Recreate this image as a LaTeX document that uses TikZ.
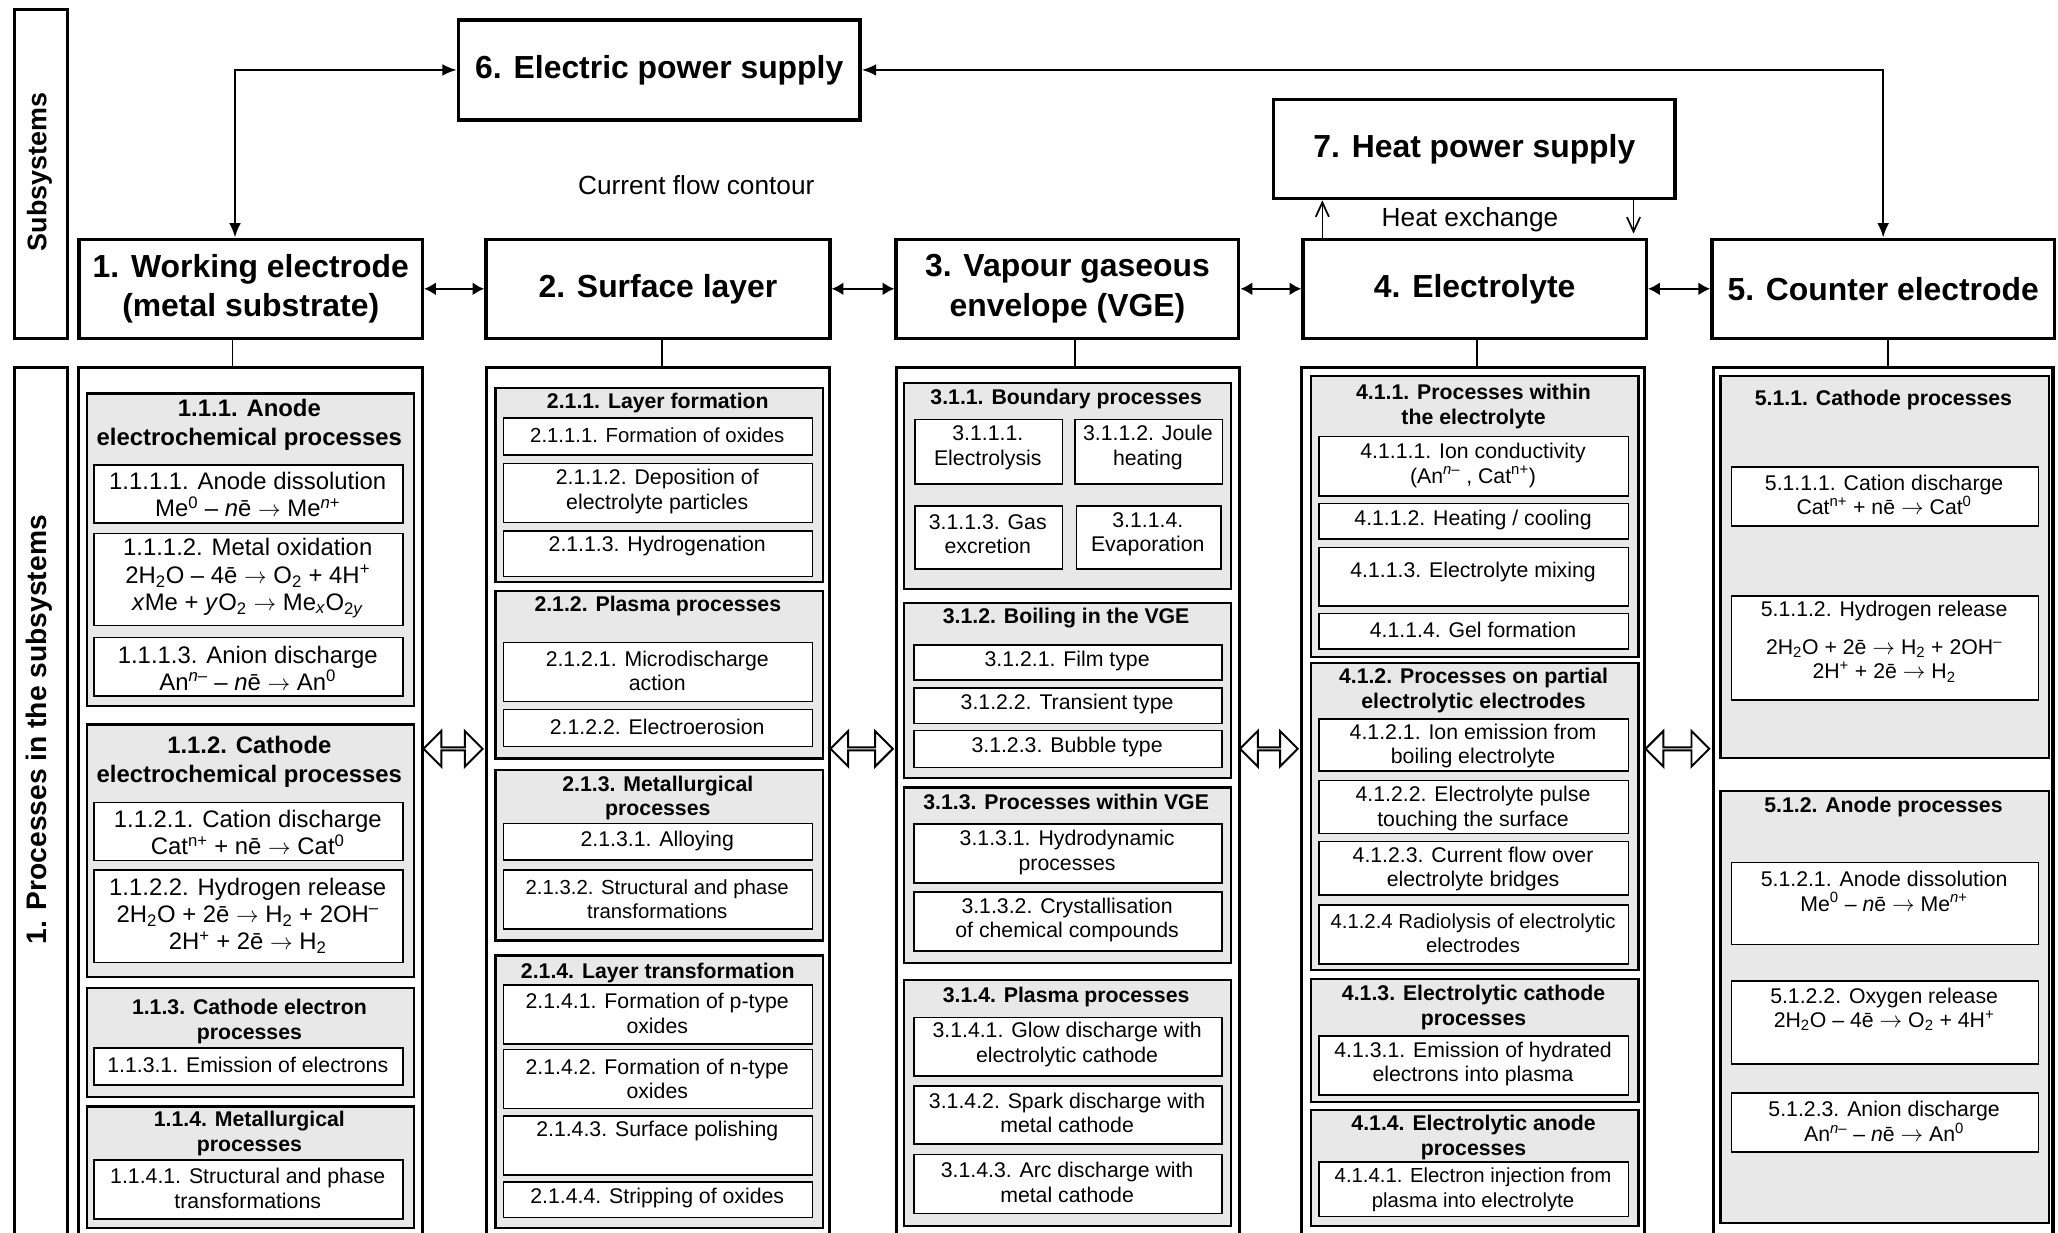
\documentclass[tikz,border=0pt]{standalone}
\usepackage{fontspec}
\setmainfont{Liberation Sans}
\usetikzlibrary{arrows.meta,shapes.arrows}
\definecolor{grpfill}{gray}{0.91}

% rectangle node given by its top-left and bottom-right corners
\newcommand\tbox[7]{\node[#2, anchor=north west, minimum width={#5-#3}, minimum height={#6-#4}] (#1) at (#3,#4) {#7};}
\newcommand\rbox[6]{\tbox{#1}{#2}{#3}{#4}{#5}{#6}{}}
% reaction arrow
\newcommand\yields{\ensuremath{\rightarrow}}

\tikzset{
  sysbox/.style={draw, line width=2.6pt, fill=white, font=\fontsize{24.3}{30}\selectfont\bfseries, align=center, inner sep=0pt},
  colbox/.style={draw, line width=2.4pt, inner sep=0pt},
  grpbox/.style={draw, line width=1.8pt, fill=grpfill, inner sep=0pt},
  itmbox/.style={draw, line width=1.3pt, fill=white, inner sep=0pt},
  lblbox/.style={draw, line width=2.2pt, inner sep=0pt},
  txa/.style={font=\fontsize{18.2}{20.7}\selectfont, align=center, inner sep=0pt},
  hda/.style={font=\fontsize{18.2}{22}\selectfont\bfseries, align=center, inner sep=0pt},
  txb/.style={font=\fontsize{16.2}{18.7}\selectfont, align=center, inner sep=0pt},
  txs/.style={font=\fontsize{15.5}{18.7}\selectfont, align=center, inner sep=0pt},
  hdb/.style={font=\fontsize{16.2}{19}\selectfont\bfseries, align=center, inner sep=0pt},
  elec/.style={line width=1.6pt, arrows={Latex[length=11pt,width=9pt]-Latex[length=11pt,width=9pt]}},
  link/.style={line width=2pt, arrows={Latex[length=9pt,width=10pt]-Latex[length=9pt,width=10pt]}},
  heat/.style={line width=1.3pt, arrows={-Straight Barb[length=11pt,width=10pt]}},
  stem/.style={line width=1.3pt},
  hollow/.style={double arrow, draw, line width=1.5pt, fill=white, minimum width=27pt,
    double arrow head extend=8pt, inner sep=0pt},
  note/.style={font=\fontsize{20}{24}\selectfont, inner sep=0pt},
  side/.style={font=\fontsize{20.5}{24}\selectfont\bfseries, rotate=90, inner sep=0pt},
}

\begin{document}
\begin{tikzpicture}[x=1pt,y=-1pt]
\useasboundingbox (0,0) rectangle (1568,939);

% ---------- side labels ----------
\rbox{lsub}{lblbox}{10}{6}{50}{256.5}
\node[side] (lsubt) at (30,131) {Subsystems};
\rbox{lproc}{lblbox}{10}{279}{50}{948}
\node[side, font=\fontsize{21.5}{24}\selectfont\bfseries] (lproct) at (30,556) {1. Processes in the subsystems};

% ---------- supplies ----------
\tbox{e6}{sysbox}{348}{14}{654}{90}{6. Electric power supply}
\tbox{e7}{sysbox}{969}{74.5}{1275}{150}{7. Heat power supply}

% ---------- subsystems ----------
\tbox{s1}{sysbox}{59}{181}{320.5}{256.5}{1. Working electrode\\(metal substrate)}
\tbox{s2}{sysbox}{369}{181}{631}{256.5}{2. Surface layer}
\tbox{s3}{sysbox}{681.5}{181}{942.5}{256.5}{3. Vapour gaseous\\envelope (VGE)}
\tbox{s4}{sysbox}{991.5}{181}{1253}{256.5}{4. Electrolyte}
\tbox{s5}{sysbox}{1303}{181}{1564}{256.5}{5. Counter electrode}

\node[note] (cfc) at (530.5,141) {Current flow contour};
\node[note] (hx) at (1120,167.5) {Heat exchange};

% current flow contour
\draw[elec] ([xshift=-12pt]s1.north) |- (e6.west);
\draw[elec] (e6.east) -| (s5.north);
\draw[link] (s1.east) -- (s2.west);
\draw[link] (s2.east) -- (s3.west);
\draw[link] (s3.east) -- (s4.west);
\draw[link] (s4.east) -- (s5.west);

% heat exchange
\coordinate (hu) at ([xshift=16pt]s4.north west);
\coordinate (hd) at ([xshift=-11pt]s4.north east);
\draw[heat] (hu) -- (hu |- e7.south);
\draw[heat, shorten >=3pt] (hd |- e7.south) -- (hd);

% ---------- process columns ----------
\rbox{c1}{colbox}{58.5}{279}{320.8}{948}
\rbox{c2}{colbox}{369.5}{279}{631}{948}
\rbox{c3}{colbox}{682}{279}{943}{948}
\rbox{c4}{colbox}{990.5}{279}{1252}{948}
\rbox{c5}{colbox}{1304}{279}{1563}{948}

\coordinate (k1) at ([xshift=-14pt]s1.south);
\coordinate (k2) at ([xshift=3pt]s2.south);
\coordinate (k3) at ([xshift=6pt]s3.south);
\coordinate (k4) at ([xshift=1.5pt]s4.south);
\coordinate (k5) at ([xshift=3.5pt]s5.south);
\draw[stem] (k1) -- (k1 |- c1.north);
\draw[stem] (k2) -- (k2 |- c2.north);
\draw[stem] (k3) -- (k3 |- c3.north);
\draw[stem] (k4) -- (k4 |- c4.north);
\draw[stem] (k5) -- (k5 |- c5.north);

\node[hollow, minimum height=45pt] (h12) at (345.2,570.5) {};
\node[hollow, minimum height=47.5pt] (h23) at (656.5,570.5) {};
\node[hollow, minimum height=44pt] (h34) at (966.8,570.5) {};
\node[hollow, minimum height=48.5pt] (h45) at (1278,570.5) {};

% ---------- column 1: working electrode ----------
\rbox{g111}{grpbox}{65.5}{299}{314.5}{537}
\node[hda] (h111) at (190,323.5) {1.1.1. Anode\\electrochemical processes};
\rbox{i1111}{itmbox}{71}{353.7}{306.5}{398}
\node[txa] (t1111) at (188.75,377) {1.1.1.1. Anode dissolution\\Me\textsuperscript{0} – \textit{n}ē \yields{} Me\textsuperscript{\textit{n}+}};
\rbox{i1112}{itmbox}{71}{405.8}{306.5}{476}
\node[txa] (t1112) at (188.75,440.5) {1.1.1.2. Metal oxidation\\2H\textsubscript{2}O – 4ē \yields{} O\textsubscript{2} + 4H\textsuperscript{+}\\\textit{x}Me + \textit{y}O\textsubscript{2} \yields{} Me\textsubscript{\textit{x}}O\textsubscript{2\textit{y}}};
\rbox{i1113}{itmbox}{71}{485}{306.5}{529.5}
\node[txa] (t1113) at (188.75,509) {1.1.1.3. Anion discharge\\An\textsuperscript{\textit{n}–} – \textit{n}ē \yields{} An\textsuperscript{0}};

\rbox{g112}{grpbox}{65.5}{551}{314.5}{743.6}
\node[hda] (h112) at (190,580.7) {1.1.2. Cathode\\electrochemical processes};
\rbox{i1121}{itmbox}{71}{610.8}{306.5}{655}
\node[txa] (t1121) at (188.75,634.5) {1.1.2.1. Cation discharge\\Cat\textsuperscript{n+} + nē \yields{} Cat\textsuperscript{0}};
\rbox{i1122}{itmbox}{71}{662}{306.5}{732.7}
\node[txa] (t1122) at (188.75,697.5) {1.1.2.2. Hydrogen release\\2H\textsubscript{2}O + 2ē \yields{} H\textsubscript{2} + 2OH\textsuperscript{–}\\2H\textsuperscript{+} + 2ē \yields{} H\textsubscript{2}};

\rbox{g113}{grpbox}{65.5}{751.7}{314.5}{835}
\node[hdb] (h113) at (190,778.5) {1.1.3. Cathode electron\\processes};
\rbox{i1131}{itmbox}{71}{798}{306.5}{826}
\node[txb] (t1131) at (188.75,811.5) {1.1.3.1. Emission of electrons};

\rbox{g114}{grpbox}{65.5}{842}{314.5}{934.6}
\node[hdb] (h114) at (190,863.5) {1.1.4. Metallurgical\\processes};
\rbox{i1141}{itmbox}{71}{883}{306.5}{928}
\node[txb] (t1141) at (188.75,905.5) {1.1.4.1. Structural and phase\\transformations};

% ---------- column 2: surface layer ----------
\rbox{g211}{grpbox}{376.5}{294.6}{626}{442.7}
\node[hdb] (h211) at (501.2,307) {2.1.1. Layer formation};
\rbox{i2111}{itmbox}{383}{318}{618.5}{346}
\node[txs] (t2111) at (500.75,331.5) {2.1.1.1. Formation of oxides};
\rbox{i2112}{itmbox}{383}{352.5}{618.5}{397.5}
\node[txb] (t2112) at (500.75,374.5) {2.1.1.2. Deposition of\\electrolyte particles};
\rbox{i2113}{itmbox}{383}{403.8}{618.5}{438.6}
\node[txb] (t2113) at (500.75,416) {2.1.1.3. Hydrogenation};

\rbox{g212}{grpbox}{376.5}{449.5}{626}{577}
\node[hdb] (h212) at (501.2,462) {2.1.2. Plasma processes};
\rbox{i2121}{itmbox}{383}{488.9}{618.5}{533.8}
\node[txb] (t2121) at (500.75,511) {2.1.2.1. Microdischarge\\action};
\rbox{i2122}{itmbox}{383}{540}{618.5}{568}
\node[txb] (t2122) at (500.75,553.5) {2.1.2.2. Electroerosion};

\rbox{g213}{grpbox}{376.5}{586}{626}{715.6}
\node[hdb] (h213) at (501.2,608) {2.1.3. Metallurgical\\processes};
\rbox{i2131}{itmbox}{383}{626.8}{618.5}{654.6}
\node[txb] (t2131) at (500.75,641) {2.1.3.1. Alloying};
\rbox{i2132}{itmbox}{383}{662}{618.5}{707}
\node[txs] (t2132) at (500.75,685) {2.1.3.2. Structural and phase\\transformations};

\rbox{g214}{grpbox}{376.5}{727}{626}{934.6}
\node[hdb] (h214) at (501.2,741.5) {2.1.4. Layer transformation};
\rbox{i2141}{itmbox}{383}{749.8}{618.5}{794.8}
\node[txb] (t2141) at (500.75,772) {2.1.4.1. Formation of p-type\\oxides};
\rbox{i2142}{itmbox}{383}{799}{618.5}{844}
\node[txb] (t2142) at (500.75,822) {2.1.4.2. Formation of n-type\\oxides};
\rbox{i2143}{itmbox}{383}{849.5}{618.5}{894.5}
\node[txb] (t2143) at (500.75,862) {2.1.4.3. Surface polishing};
\rbox{i2144}{itmbox}{383}{899.8}{618.5}{927}
\node[txb] (t2144) at (500.75,912.5) {2.1.4.4. Stripping of oxides};

% ---------- column 3: vapour gaseous envelope ----------
\rbox{g311}{grpbox}{687.7}{291}{937}{448}
\node[hdb] (h311) at (812.3,304) {3.1.1. Boundary processes};
\rbox{i3111}{itmbox}{696.4}{319}{808.9}{368}
\node[txb] (t3111) at (752.6,341) {3.1.1.1.\\Electrolysis};
\rbox{i3112}{itmbox}{818.4}{319}{930.8}{368}
\node[txb] (t3112) at (874.6,341) {3.1.1.2. Joule\\heating};
\rbox{i3113}{itmbox}{696.4}{384.8}{808.9}{433}
\node[txb] (t3113) at (752.6,407) {3.1.1.3. Gas\\excretion};
\rbox{i3114}{itmbox}{819.5}{384.8}{929.5}{433}
\node[txb] (t3114) at (874.5,407) {3.1.1.4.\\Evaporation};

\rbox{g312}{grpbox}{687.7}{458.4}{937}{592}
\node[hdb] (h312) at (812.3,471) {3.1.2. Boiling in the VGE};
\rbox{i3121}{itmbox}{695.5}{490.7}{930.5}{517.6}
\node[txb] (t3121) at (813,503.5) {3.1.2.1. Film type};
\rbox{i3122}{itmbox}{695.5}{523.5}{930.5}{550.6}
\node[txb] (t3122) at (813,536) {3.1.2.2. Transient type};
\rbox{i3123}{itmbox}{695.5}{556}{930.5}{584}
\node[txb] (t3123) at (813,569.5) {3.1.2.3. Bubble type};

\rbox{g313}{grpbox}{687.7}{599}{937}{732.7}
\node[hdb] (h313) at (812.3,611) {3.1.3. Processes within VGE};
\rbox{i3131}{itmbox}{695.5}{627}{930.5}{672}
\node[txb] (t3131) at (813,649.5) {3.1.3.1. Hydrodynamic\\processes};
\rbox{i3132}{itmbox}{695.5}{679}{930.5}{723.8}
\node[txb] (t3132) at (813,701) {3.1.3.2. Crystallisation\\of chemical compounds};

\rbox{g314}{grpbox}{687.7}{746}{937}{933}
\node[hdb] (h314) at (812.3,759.5) {3.1.4. Plasma processes};
\rbox{i3141}{itmbox}{695.5}{774.6}{930.5}{819}
\node[txb] (t3141) at (813,796) {3.1.4.1. Glow discharge with\\electrolytic cathode};
\rbox{i3142}{itmbox}{695.5}{826.7}{930.5}{871}
\node[txb] (t3142) at (813,848) {3.1.4.2. Spark discharge with\\metal cathode};
\rbox{i3143}{itmbox}{695.5}{879}{930.5}{924}
\node[txb] (t3143) at (813,901) {3.1.4.3. Arc discharge with\\metal cathode};

% ---------- column 4: electrolyte ----------
\rbox{g411}{grpbox}{998}{285.7}{1247.5}{499.8}
\node[hdb] (h411) at (1122.7,309.5) {4.1.1. Processes within\\the electrolyte};
\rbox{i4111}{itmbox}{1004.5}{332}{1240}{377}
\node[txb] (t4111) at (1122.3,354.5) {4.1.1.1. Ion conductivity\\(An\textsuperscript{\textit{n}–} , Cat\textsuperscript{n+})};
\rbox{i4112}{itmbox}{1004.5}{383}{1240}{410}
\node[txb] (t4112) at (1122.3,396) {4.1.1.2. Heating / cooling};
\rbox{i4113}{itmbox}{1004.5}{416.5}{1240}{461}
\node[txb] (t4113) at (1122.3,436) {4.1.1.3. Electrolyte mixing};
\rbox{i4114}{itmbox}{1004.5}{466.8}{1240}{493.8}
\node[txb] (t4114) at (1122.3,480) {4.1.1.4. Gel formation};

\rbox{g412}{grpbox}{998}{504}{1247.5}{738}
\node[hdb] (h412) at (1122.7,526) {4.1.2. Processes on partial\\electrolytic electrodes};
\rbox{i4121}{itmbox}{1004.5}{547}{1240}{587}
\node[txb] (t4121) at (1122.3,568.5) {4.1.2.1. Ion emission from\\boiling electrolyte};
\rbox{i4122}{itmbox}{1004.5}{594}{1240}{634.4}
\node[txb] (t4122) at (1122.3,616) {4.1.2.2. Electrolyte pulse\\touching the surface};
\rbox{i4123}{itmbox}{1004.5}{640.5}{1240}{681}
\node[txb] (t4123) at (1122.3,662) {4.1.2.3. Current flow over\\electrolyte bridges};
\rbox{i4124}{itmbox}{1004.5}{688.8}{1240}{733.8}
\node[txs] (t4124) at (1122.3,711) {4.1.2.4 Radiolysis of electrolytic\\electrodes};

\rbox{g413}{grpbox}{998}{745}{1247.5}{838.6}
\node[hdb] (h413) at (1122.7,767.5) {4.1.3. Electrolytic cathode\\processes};
\rbox{i4131}{itmbox}{1004.5}{788.6}{1240}{833.5}
\node[txb] (t4131) at (1122.3,810.5) {4.1.3.1. Emission of hydrated\\electrons into plasma};

\rbox{g414}{grpbox}{998}{845}{1247.5}{933}
\node[hdb] (h414) at (1122.7,866.5) {4.1.4. Electrolytic anode\\processes};
\rbox{i4141}{itmbox}{1004.5}{884.6}{1240}{926.2}
\node[txs] (t4141) at (1122.3,906.5) {4.1.4.1. Electron injection from\\plasma into electrolyte};

% ---------- column 5: counter electrode ----------
\rbox{g511}{grpbox}{1310}{285.7}{1560}{576.6}
\node[hdb] (h511) at (1435,304.5) {5.1.1. Cathode processes};
\rbox{i5111}{itmbox}{1318.5}{355}{1552.5}{400}
\node[txb] (t5111) at (1435.5,377) {5.1.1.1. Cation discharge\\Cat\textsuperscript{n+} + nē \yields{} Cat\textsuperscript{0}};
\rbox{i5112}{itmbox}{1318.5}{453.3}{1552.5}{532.6}
\node[txb] (t5112) at (1435.5,465.5) {5.1.1.2. Hydrogen release};
\node[txb] (q5112) at (1435.5,503.5) {2H\textsubscript{2}O + 2ē \yields{} H\textsubscript{2} + 2OH\textsuperscript{–}\\2H\textsuperscript{+} + 2ē \yields{} H\textsubscript{2}};

\rbox{g512}{grpbox}{1310}{602}{1560}{930.8}
\node[hdb] (h512) at (1435,615) {5.1.2. Anode processes};
\rbox{i5121}{itmbox}{1318.5}{656.5}{1552.5}{719}
\node[txb] (t5121) at (1435.5,679) {5.1.2.1. Anode dissolution\\Me\textsuperscript{0} – \textit{n}ē \yields{} Me\textsuperscript{\textit{n}+}};
\rbox{i5122}{itmbox}{1318.5}{746.7}{1552.5}{810}
\node[txb] (t5122) at (1435.5,769) {5.1.2.2. Oxygen release\\2H\textsubscript{2}O – 4ē \yields{} O\textsubscript{2} + 4H\textsuperscript{+}};
\rbox{i5123}{itmbox}{1318.5}{832}{1552.5}{877}
\node[txb] (t5123) at (1435.5,854.5) {5.1.2.3. Anion discharge\\An\textsuperscript{\textit{n}–} – \textit{n}ē \yields{} An\textsuperscript{0}};

\end{tikzpicture}
\end{document}
